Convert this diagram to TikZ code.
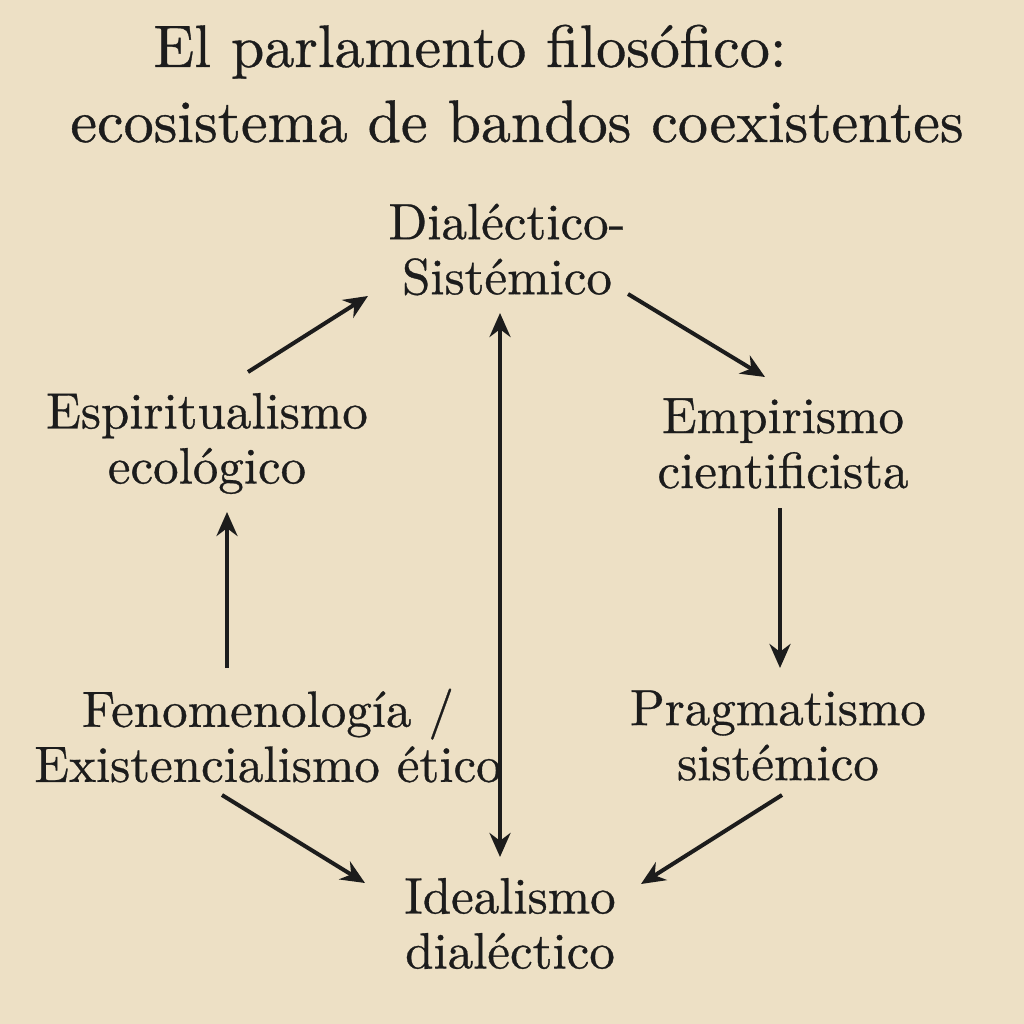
\documentclass[tikz,border=0pt]{standalone}
\usepackage{fontspec}
\setmainfont{lmroman10-regular.otf}[FakeBold=0.6]
\usetikzlibrary{arrows.meta}
\definecolor{paper}{RGB}{237,224,197}
\definecolor{ink}{RGB}{28,28,28}
\begin{document}
\begin{tikzpicture}[x=1pt,y=-1pt,
  lbl/.style={align=center,inner sep=0pt,text=ink,font=\fontsize{51}{55}\selectfont},
  ttl/.style={inner sep=0pt,text=ink,font=\fontsize{60}{75}\selectfont},
  arr/.style={draw=ink,line width=4pt,-{Stealth[length=24pt,width=21pt]}},
  darr/.style={draw=ink,line width=4pt,{Stealth[length=24pt,width=21pt]}-{Stealth[length=24pt,width=21pt]}}]
\fill[paper] (0,0) rectangle (1024,1024);
\useasboundingbox (0,0) rectangle (1024,1024);
\node[ttl,anchor=base] (t1) at (470,67) {El parlamento filosófico:};
\node[ttl,anchor=base] (t2) at (517,142) {ecosistema de bandos coexistentes};
\node[lbl] (dial) at (507,249.5) {Dialéctico-\\Sistémico};
\node[lbl] (esp) at (207,443.5) {Espiritualismo\\ecológico};
\node[lbl] (emp) at (783,443.5) {Empirismo\\cientificista};
\node[lbl] (fen) at (268,735.5) {Fenomenología /\\Existencialismo ético};
\node[lbl] (prag) at (778,735.5) {Pragmatismo\\sistémico};
\node[lbl] (ideal) at (510,923.5) {Idealismo\\dialéctico};
\draw[arr] ([shift={(41,-71.5)}]esp.center) -- ([shift={(-139,46.5)}]dial.center);
\draw[arr] ([shift={(121,44.5)}]dial.center) -- ([shift={(-18,-66.5)}]emp.center);
\draw[arr] ([shift={(-3,64.5)}]emp.center) -- ([shift={(2,-67.5)}]prag.center);
\draw[arr] ([shift={(-41,-67.5)}]fen.center) -- ([shift={(20,68.5)}]esp.center);
\draw[arr] ([shift={(-46,59.5)}]fen.center) -- ([shift={(-145,-40.5)}]ideal.center);
\draw[arr] ([shift={(4,59.5)}]prag.center) -- ([shift={(131,-39.5)}]ideal.center);
\draw[darr] ([shift={(-7,63.5)}]dial.center) -- ([shift={(-10,-66.5)}]ideal.center);
\end{tikzpicture}
\end{document}
